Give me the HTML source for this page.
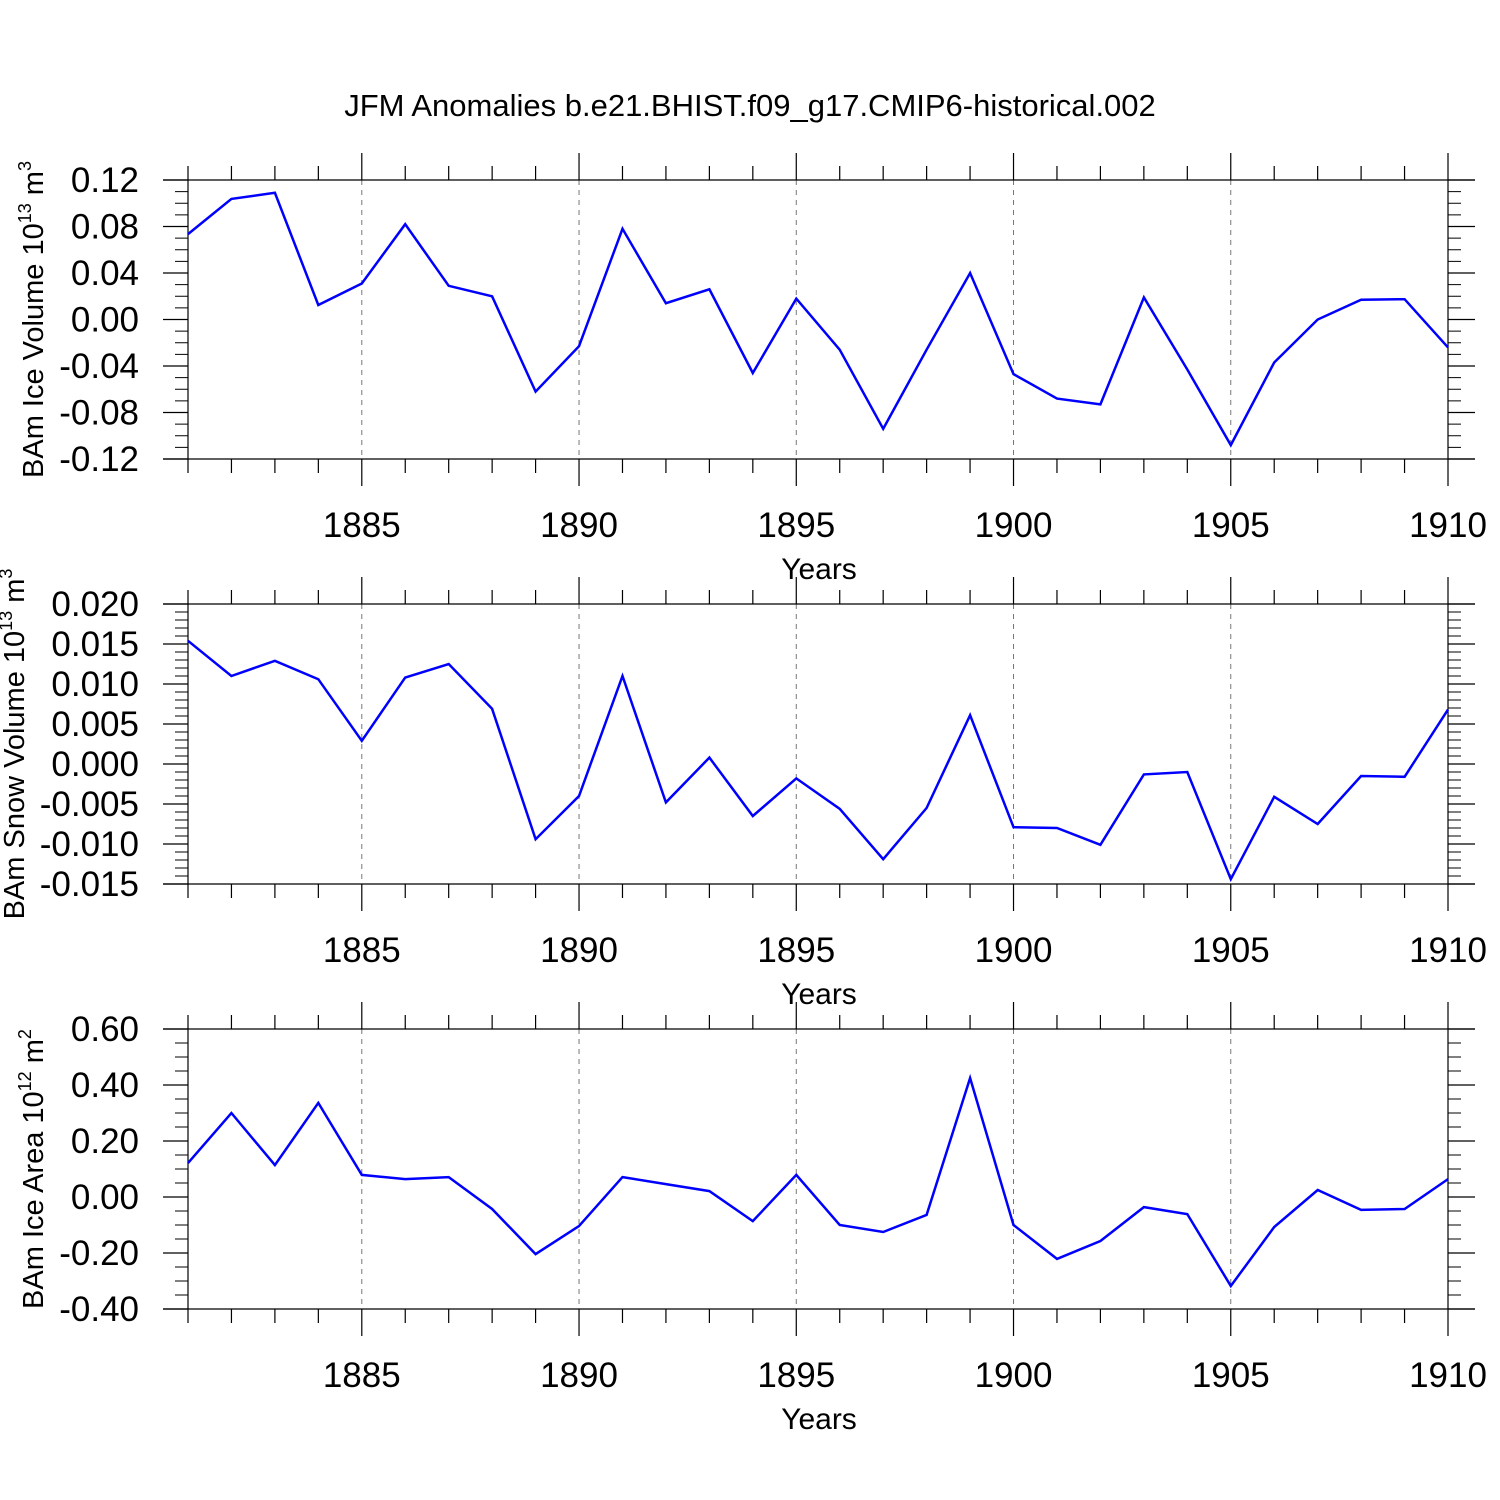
<!DOCTYPE html>
<html><head><meta charset="utf-8"><style>
body{margin:0;background:#fff;}
svg{display:block;font-family:"Liberation Sans",Arial,sans-serif;}
</style></head><body>
<svg id="chart" width="1500" height="1500" xmlns="http://www.w3.org/2000/svg">
<rect width="1500" height="1500" fill="#fff"/>
<text x="750" y="116" font-size="31" text-anchor="middle">JFM Anomalies b.e21.BHIST.f09_g17.CMIP6-historical.002</text>
</svg>
<script>
const years = [1881,1882,1883,1884,1885,1886,1887,1888,1889,1890,1891,1892,1893,1894,1895,1896,1897,1898,1899,1900,1901,1902,1903,1904,1905,1906,1907,1908,1909,1910];
const iceVolume = [0.0735,0.1037,0.109,0.0125,0.031,0.082,0.029,0.020,-0.062,-0.023,0.078,0.014,0.026,-0.046,0.018,-0.026,-0.094,-0.026,0.040,-0.047,-0.068,-0.073,0.019,-0.043,-0.108,-0.037,0.000,0.017,0.0175,-0.024];
const snowVolume = [0.0154,0.011,0.0129,0.0106,0.0029,0.0108,0.0125,0.0069,-0.0094,-0.004,0.011,-0.0048,0.0008,-0.0065,-0.0018,-0.0056,-0.0119,-0.0055,0.0061,-0.0079,-0.008,-0.0101,-0.0013,-0.001,-0.0144,-0.0041,-0.0075,-0.0015,-0.0016,0.0068];
const iceArea = [0.121,0.30,0.114,0.336,0.079,0.064,0.071,-0.043,-0.204,-0.104,0.071,0.046,0.021,-0.086,0.079,-0.1,-0.125,-0.064,0.425,-0.1,-0.221,-0.157,-0.036,-0.061,-0.318,-0.107,0.025,-0.046,-0.043,0.064];
const xTickLabels = [1885,1890,1895,1900,1905,1910];
const iceVolTicks = ["0.12","0.08","0.04","0.00","-0.04","-0.08","-0.12"];
const snowTicks = ["0.020","0.015","0.010","0.005","0.000","-0.005","-0.010","-0.015"];
const areaTicks = ["0.60","0.40","0.20","0.00","-0.20","-0.40"];

const NS="http://www.w3.org/2000/svg";
const svg=document.getElementById('chart');
function mk(tag,attrs,parent){const e=document.createElementNS(NS,tag);for(const k in attrs)e.setAttribute(k,attrs[k]);(parent||svg).appendChild(e);return e;}
const X0=188,X1=1448,yr0=1881,yr1=1910;
const xs=y=>X0+(y-yr0)*(X1-X0)/(yr1-yr0);

function panel(name,top,bot,vmin,vmax,majStep,minStep,ticks,vals,titleMain,sup,unit,titleX){
  const g=mk('g',{});
  
  
  const ys=v=>bot-(v-vmin)*(bot-top)/(vmax-vmin);
  xTickLabels.slice(0,5).forEach(y=>{
    const l=mk('line',{x1:xs(y),x2:xs(y),y1:top,y2:bot,stroke:'#777','stroke-width':1,'stroke-dasharray':'5,5'},g);
    
    
  });
  mk('line',{x1:X0-25,x2:X1+27,y1:top,y2:top,stroke:'#000','stroke-width':1.2},g);
  mk('line',{x1:X0-25,x2:X1+27,y1:bot,y2:bot,stroke:'#000','stroke-width':1.2},g);
  for(let y=yr0;y<=yr1;y++){
    const maj=(y%5===0);const len=maj?27:14;
    mk('line',{x1:xs(y),x2:xs(y),y1:top-len,y2:top,stroke:'#000','stroke-width':1.2},g);
    mk('line',{x1:xs(y),x2:xs(y),y1:bot,y2:bot+len,stroke:'#000','stroke-width':1.2},g);
  }
  mk('line',{x1:X0,x2:X0,y1:top,y2:bot,stroke:'#000','stroke-width':1.2},g);
  mk('line',{x1:X1,x2:X1,y1:top,y2:bot,stroke:'#000','stroke-width':1.2},g);
  const nMin=Math.round((vmax-vmin)/minStep);
  for(let i=0;i<=nMin;i++){
    const v=vmin+i*minStep;const y=ys(v);
    mk('line',{x1:X0-13,x2:X0,y1:y,y2:y,stroke:'#000','stroke-width':1},g);
    mk('line',{x1:X1,x2:X1+13,y1:y,y2:y,stroke:'#000','stroke-width':1},g);
  }
  ticks.forEach((t,i)=>{
    const v=vmax-i*majStep;const y=ys(v);
    mk('line',{x1:X0-25,x2:X0,y1:y,y2:y,stroke:'#000','stroke-width':1.2},g);
    mk('line',{x1:X1,x2:X1+27,y1:y,y2:y,stroke:'#000','stroke-width':1.2},g);
    const tx=mk('text',{x:139,y:y+12,'font-size':35,'text-anchor':'end'},g);
    tx.textContent=t;
    
    
  });
  xTickLabels.forEach(y=>{
    const tx=mk('text',{x:xs(y),y:bot+78,'font-size':35,'text-anchor':'middle'},g);
    tx.textContent=y;
    
    
  });
  const xt=mk('text',{x:819,y:bot+120,'font-size':30,'text-anchor':'middle'},g);
  xt.textContent='Years';
  
  
  const cy=(top+bot)/2;
  const yt=mk('text',{x:0,y:0,'font-size':29,'text-anchor':'middle',transform:`translate(${titleX},${cy}) rotate(-90)`},g);
  
  
  const t1=mk('tspan',{},yt);t1.textContent=titleMain+' 10';
  const t2=mk('tspan',{dy:-12,'font-size':18},yt);t2.textContent=sup;
  const t3=mk('tspan',{dy:12},yt);t3.textContent=' m';
  const t4=mk('tspan',{dy:-12,'font-size':18},yt);t4.textContent=unit;
  const pts=years.map((y,i)=>xs(y).toFixed(1)+','+ys(vals[i]).toFixed(1)).join(' ');
  const pl=mk('polyline',{points:pts,fill:'none',stroke:'#0000ff','stroke-width':2.5,'stroke-linejoin':'miter'},g);
  
  
}
panel('ice-volume',180,459,-0.12,0.12,0.04,0.01,iceVolTicks,iceVolume,'BAm Ice Volume','13','3',43);
panel('snow-volume',604,884,-0.015,0.020,0.005,0.001,snowTicks,snowVolume,'BAm Snow Volume','13','3',24);
panel('ice-area',1029,1309,-0.40,0.60,0.2,0.05,areaTicks,iceArea,'BAm Ice Area','12','2',43);
</script>
</body></html>
